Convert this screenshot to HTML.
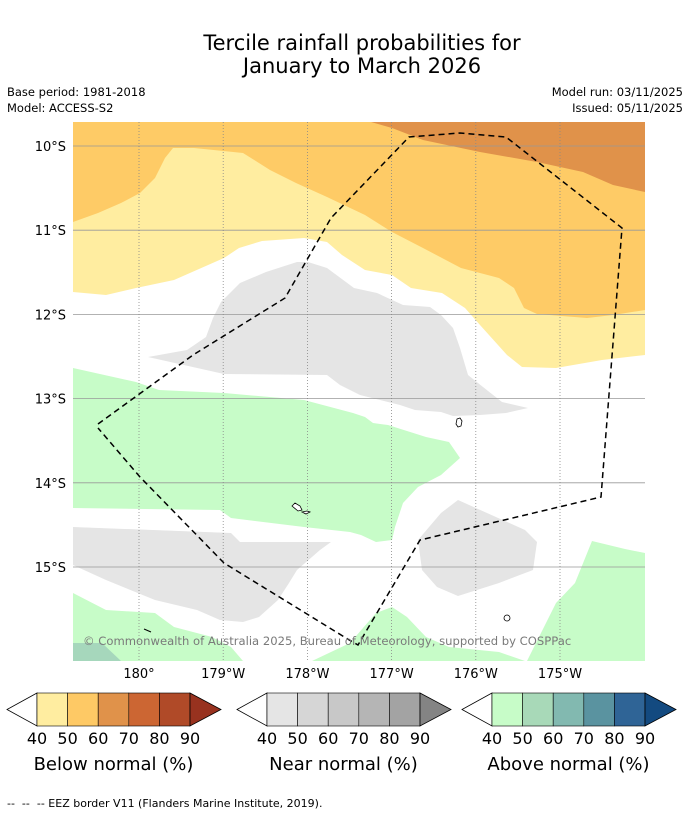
<!DOCTYPE html>
<html><head><meta charset="utf-8"><style>
body{margin:0;background:#fff;}
svg{display:block;font-family:"DejaVu Sans","Liberation Sans",sans-serif;}
</style></head><body>
<svg width="690" height="816" viewBox="0 0 690 816" xmlns="http://www.w3.org/2000/svg">
<rect width="690" height="816" fill="#fff"/>
<text x="362" y="50" font-size="21" text-anchor="middle">Tercile rainfall probabilities for</text>
<text x="362" y="73" font-size="21" text-anchor="middle">January to March 2026</text>
<text x="7" y="96" font-size="11.5">Base period: 1981-2018</text>
<text x="7" y="112" font-size="11.5">Model: ACCESS-S2</text>
<text x="683" y="96" font-size="11.5" text-anchor="end">Model run: 03/11/2025</text>
<text x="683" y="112" font-size="11.5" text-anchor="end">Issued: 05/11/2025</text>
<defs><clipPath id="mc"><rect x="73" y="122" width="572" height="539"/></clipPath></defs>
<g clip-path="url(#mc)">
<rect x="73" y="122" width="572" height="539" fill="#fff"/>
<polygon fill="#ffeda0" points="73,122 645,122 645,355 602,360 556,368 522,367 507,355 480,325 465,308 442,293 411,288 392,275 365,270 342,255 327,242 304,238 262,241 239,248 224,258 174,280 136,288 106,295 73,292"/>
<polygon fill="#fecb66" points="73,122 645,122 645,310 613,315 587,318 537,314 524,308 514,288 499,278 461,268 423,248 392,232 365,215 327,197 296,183 270,170 243,153 194,148 173,148 165,158 155,178 140,193 121,203 98,213 73,222"/>
<polygon fill="#e0924a" points="371,122 645,122 645,192 613,185 583,172 537,162 480,152 423,140 392,128"/>
<polygon fill="#e5e5e5" points="148,357 187,350 206,337 213,318 221,302 240,283 266,272 297,262 308,262 327,268 354,288 377,293 403,305 430,307 441,315 453,328 460,348 468,375 483,387 502,402 528,408 506,413 480,415 453,416 441,412 415,410 400,405 360,395 340,385 327,375 224,374"/>
<polygon fill="#c7fcc8" points="73,368 136,382 159,390 224,393 304,400 353,413 365,417 373,423 388,425 426,437 449,442 460,458 441,475 418,487 403,503 395,527 392,540 376,542 361,535 350,532 304,527 231,518 220,510 73,508"/>
<polygon fill="#e5e5e5" points="73,527 231,533 240,542 331,542 320,550 297,570 289,583 278,600 259,617 243,622 220,620 197,610 155,600 106,580 73,565"/>
<polygon fill="#e5e5e5" points="418,540 441,513 458,500 487,513 525,530 537,542 533,570 499,583 458,596 437,587 422,570"/>
<polygon fill="#c7fcc8" points="73,593 106,610 155,613 174,627 212,637 231,647 243,661 73,661"/>
<polygon fill="#a6d7bc" points="73,643 102,643 121,661 73,661"/>
<polygon fill="#c7fcc8" points="312,661 350,643 376,613 392,607 407,617 426,637 449,647 499,652 525,661"/>
<polygon fill="#c7fcc8" points="527,661 556,603 575,583 592,541 625,549 645,553 645,661"/>
<g id="grid"></g>
<polyline fill="none" stroke="#000" stroke-width="1.5" stroke-dasharray="6,4" points="98,424 193,355 285,298 331,218 409,137 460,133 506,137 622,228 601,497 420,540 358,645 346,638 224,563 140,477 98,428"/>
<path d="M457,419 l3,-1 l2,3 l-1,5 l-3,1 l-2,-3 z" fill="#fff" stroke="#000" stroke-width="0.8"/>
<path d="M292,506 l3,-3 l5,3 l2,4 l-4,1 z M302,512 l5,-1 l3,1 l-4,2 z" fill="#fff" stroke="#000" stroke-width="0.8"/>
<circle cx="507" cy="618" r="3" fill="#fff" stroke="#000" stroke-width="0.8"/>
<line x1="144" y1="629" x2="151" y2="632" stroke="#000" stroke-width="1"/>
<text x="83" y="645" font-size="11.6" fill="#7a7a7a">© Commonwealth of Australia 2025, Bureau of Meteorology, supported by COSPPac</text>
</g>
<g id="axes"></g>
<g id="legends"></g>
<text x="7" y="807" font-size="11" style="white-space:pre">--  --  -- EEZ border V11 (Flanders Marine Institute, 2019).</text>
</svg>
<script>
const latLabels=["10°S","11°S","12°S","13°S","14°S","15°S"];
const latValues=[10,11,12,13,14,15];
const lonLabels=["180°","179°W","178°W","177°W","176°W","175°W"];
const lonValues=[180,179,178,177,176,175];
const belowColors=["#ffeda0","#fec965","#e0924a","#cc6633","#b04a28","#98321f"];
const nearColors=["#e5e5e5","#d6d6d6","#c8c8c8","#b5b5b5","#a3a3a3","#848484"];
const aboveColors=["#c7fcc8","#a8d9b8","#82b9b0","#5a93a0","#2f6496","#134a80"];
const tickLabels=["40","50","60","70","80","90"];
const legendTitles=["Below normal (%)","Near normal (%)","Above normal (%)"];
const NS="http://www.w3.org/2000/svg";
const yOf=l=>146+(l-10)*84.2;
const xOf=w=>139+(180-w)*84.2;
function mk(t,a,p){const e=document.createElementNS(NS,t);for(const k in a)e.setAttribute(k,a[k]);p.appendChild(e);return e;}
const grid=document.getElementById('grid'),axes=document.getElementById('axes');
latValues.forEach((v,i)=>{
 const y=yOf(v);
 const l=mk('line',{x1:73,x2:645,y1:y,y2:y,stroke:'#999','stroke-width':0.8},grid);
 
 
 const t=mk('text',{x:66,y:y+5,'font-size':13,'text-anchor':'end'},axes);
 t.textContent=latLabels[i];
 
 
});
lonValues.forEach((v,i)=>{
 const x=xOf(v);
 const l=mk('line',{x1:x,x2:x,y1:122,y2:661,stroke:'#888','stroke-width':0.8,'stroke-dasharray':'1,2'},grid);
 
 
 const t=mk('text',{x:x,y:678,'font-size':13,'text-anchor':'middle'},axes);
 t.textContent=lonLabels[i];
 
 
});
const lg=document.getElementById('legends');
[belowColors,nearColors,aboveColors].forEach((cols,b)=>{
 const x0=[7,237,462][b],top=693,h=33,cw=30.6,c0=x0+30;
 const g=mk('g',{},lg);
 
 
 const lt=mk('polygon',{points:`${c0},${top} ${x0},${top+h/2} ${c0},${top+h}`,fill:'#fff',stroke:'#000','stroke-width':0.8},g);
 
 
 for(let i=0;i<5;i++){
  const r=mk('rect',{x:c0+i*cw,y:top,width:cw,height:h,fill:cols[i],stroke:'#000','stroke-width':0.6},g);
  
  
 }
 const ex=c0+5*cw;
 const rt=mk('polygon',{points:`${ex},${top} ${ex+31},${top+h/2} ${ex},${top+h}`,fill:cols[5],stroke:'#000','stroke-width':0.8},g);
 
 
 tickLabels.forEach((s,i)=>{
  const t=mk('text',{x:c0+i*cw,y:744,'font-size':16,'text-anchor':'middle'},g);
  t.textContent=s;
  
  
 });
 const tt=mk('text',{x:c0+2.5*cw,y:770,'font-size':18,'text-anchor':'middle'},g);
 tt.textContent=legendTitles[b];
 
 
});
</script>
</body></html>
